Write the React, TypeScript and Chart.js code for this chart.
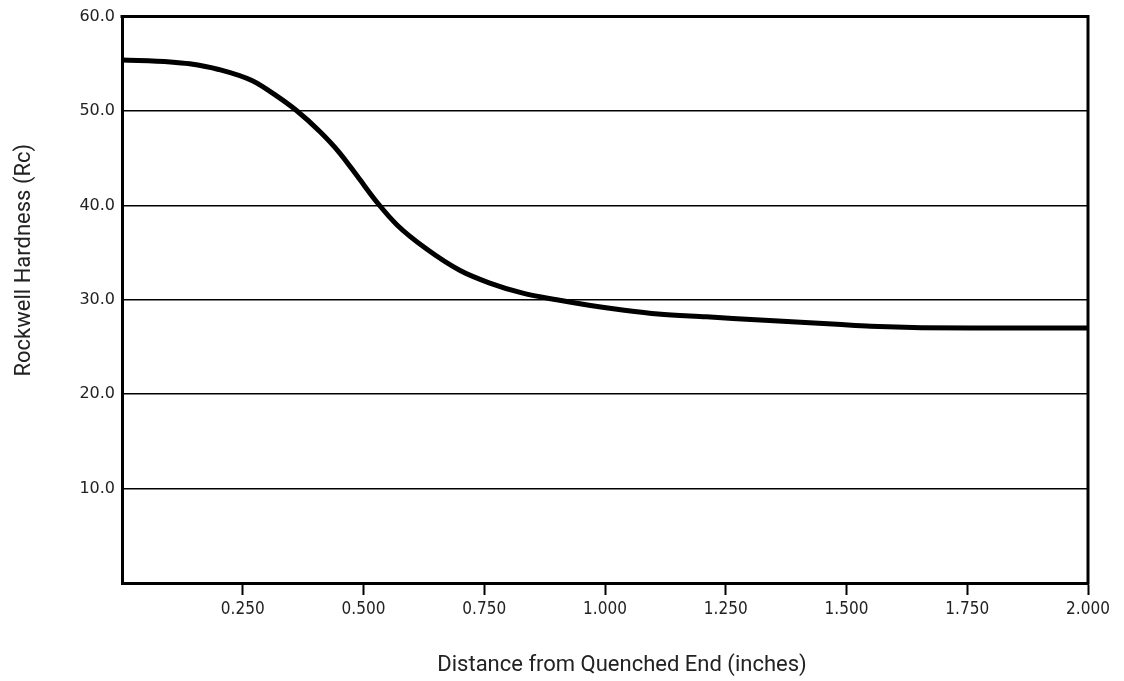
import React, { useEffect, useRef } from "react";
import { Chart, registerables } from "chart.js";

Chart.register(...registerables);

// Distance from quenched end (inches)
const distance = [0, 0.1, 0.14, 0.2, 0.27, 0.32, 0.36, 0.41, 0.45, 0.49, 0.53, 0.57, 0.63, 0.7, 0.76, 0.83, 0.9, 0.97, 1.04, 1.11, 1.21, 1.34, 1.48, 1.55, 1.76, 2.0];
// Rockwell hardness (Rc)
const hardness = [55.4, 55.2, 55.0, 54.4, 53.2, 51.6, 50.1, 47.8, 45.6, 42.9, 40.2, 37.9, 35.4, 33.1, 31.8, 30.7, 30.0, 29.4, 28.9, 28.5, 28.2, 27.8, 27.4, 27.2, 27.0, 27.0];

const xTickValues = [0, 0.25, 0.5, 0.75, 1.0, 1.25, 1.5, 1.75, 2.0];
const yTickValues = [0, 10, 20, 30, 40, 50, 60];

const xTitle = "Distance from Quenched End (inches)";
const yTitle = "Rockwell Hardness (Rc)";

const TITLE_FONT = "22px Roboto, 'Liberation Sans', sans-serif";

const framePlugin = {
  id: "frameAndTitles",
  afterDraw(chart: any) {
    const { ctx, chartArea, height } = chart;
    const { left, right, top, bottom } = chartArea;
    ctx.save();
    ctx.strokeStyle = "#000";
    ctx.lineWidth = 3;
    ctx.lineCap = "square";
    ctx.beginPath();
    ctx.moveTo(left, top);
    ctx.lineTo(right, top);
    ctx.lineTo(right, bottom);
    ctx.stroke();

    ctx.fillStyle = "#222";
    ctx.font = TITLE_FONT;
    ctx.textAlign = "center";
    ctx.textBaseline = "middle";
    ctx.fillText(xTitle, (left + right) / 2 + 17, height - 16);

    ctx.translate(24, top + (bottom - top) * 0.43);
    ctx.rotate(-Math.PI / 2);
    ctx.fillText(yTitle, 0, 0);
    ctx.restore();
  },
};

export default function App() {
  const canvasRef = useRef<HTMLCanvasElement | null>(null);

  useEffect(() => {
    if (!canvasRef.current) return;
    const chart = new Chart(canvasRef.current, {
      type: "line",
      data: {
        datasets: [
          {
            data: distance.map((d, i) => ({ x: d, y: hardness[i] })),
            borderColor: "#000",
            borderWidth: 5,
            pointRadius: 0,
            fill: false,
            cubicInterpolationMode: "monotone",
          },
        ],
      },
      options: {
        animation: false,
        responsive: false,
        maintainAspectRatio: false,
        layout: { padding: { left: 0, top: 16, right: 36, bottom: 0 } },
        plugins: {
          legend: { display: false },
          tooltip: { enabled: false },
          title: { display: false },
        },
        scales: {
          x: {
            type: "linear",
            min: 0,
            max: 2,
            afterBuildTicks: (s: any) => {
              s.ticks = xTickValues.map((v) => ({ value: v }));
            },
            afterFit: (s: any) => {
              s.height = 98;
            },
            ticks: {
              autoSkip: false,
              maxRotation: 0,
              padding: 4,
              color: "#222",
              font: { family: "'DejaVu Sans Condensed', Roboto, sans-serif", size: 17 },
              callback: (v: any) => (Number(v) === 0 ? "" : Number(v).toFixed(3)),
            },
            grid: {
              drawOnChartArea: false,
              drawTicks: true,
              tickLength: 12,
              tickWidth: 2,
              tickColor: (c: any) => (c.tick && c.tick.value === 0 ? "rgba(0,0,0,0)" : "#000"),
            },
            border: { display: true, color: "#000", width: 3 },
          },
          y: {
            type: "linear",
            min: 0,
            max: 60,
            afterBuildTicks: (s: any) => {
              s.ticks = yTickValues.map((v) => ({ value: v }));
            },
            afterFit: (s: any) => {
              s.width = 122;
            },
            ticks: {
              padding: 7,
              color: "#222",
              font: { family: "'DejaVu Sans', sans-serif", size: 16 },
              callback: (v: any) => (Number(v) === 0 ? "" : Number(v).toFixed(1)),
            },
            grid: {
              drawTicks: false,
              color: "#000",
              lineWidth: 1.5,
            },
            border: { display: true, color: "#000", width: 3 },
          },
        },
      },
      plugins: [framePlugin],
    });
    return () => chart.destroy();
  }, []);

  return (
    <div style={{ position: "fixed", left: 0, top: 0, width: 1124, height: 681, background: "#fff" }}>
      <canvas ref={canvasRef} width={1124} height={681} style={{ width: 1124, height: 681, display: "block" }} />
    </div>
  );
}
